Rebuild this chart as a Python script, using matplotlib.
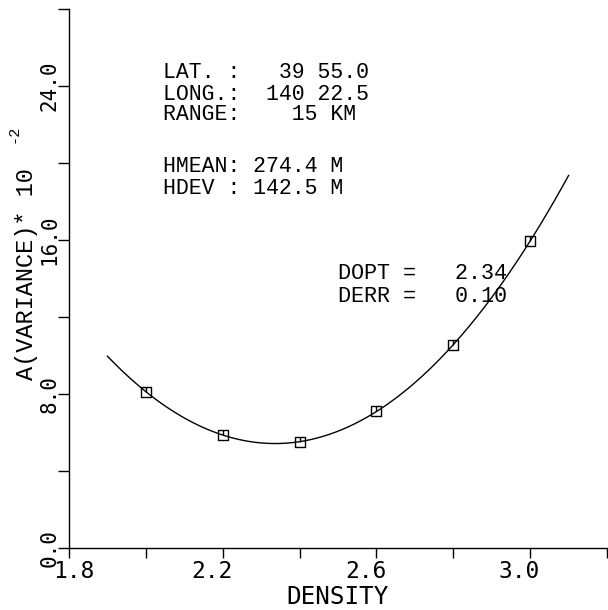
import numpy as np
import matplotlib
matplotlib.use("Agg")
import matplotlib.pyplot as plt
from matplotlib.path import Path
from matplotlib.transforms import ScaledTranslation

# ---- data ----
density = [2.0, 2.2, 2.4, 2.6, 2.8, 3.0]
variance = [8.12, 5.87, 5.52, 7.10, 10.55, 15.95]
curve_start, curve_end = 1.9, 3.1

x_ticks = [1.8, 2.0, 2.2, 2.4, 2.6, 2.8, 3.0, 3.2]
x_ticklabels = ["1.8", "", "2.2", "", "2.6", "", "3.0", ""]
y_ticks = [0, 4, 8, 12, 16, 20, 24, 28]
y_ticklabels = ["0.0", "", "8.0", "", "16.0", "", "24.0", ""]

info_lines = ["LAT. :   39 55.0", "LONG.:  140 22.5", "RANGE:    15 KM",
              "HMEAN: 274.4 M", "HDEV : 142.5 M"]
fit_lines = ["DOPT =   2.34", "DERR =   0.10"]

W, H = 608, 610
fig = plt.figure(figsize=(W / 100, H / 100), dpi=100)
ax = fig.add_axes([69 / W, (H - 548) / H, (607 - 69) / W, (548 - 9) / H])

TICKFONT = "DejaVu Sans Mono"
WIDEFONT = "Liberation Mono"

# fitted curve (least squares quadratic through the measured points)
coef = np.polyfit(density, variance, 2)
xc = np.linspace(curve_start, curve_end, 300)
ax.plot(xc, np.polyval(coef, xc), color="black", lw=1.0, clip_on=False)

# marker: open square with short vertical stroke from centre to top
verts = [(-1, -1), (1, -1), (1, 1), (-1, 1), (-1, -1), (0, 0), (0, 1)]
codes = [Path.MOVETO, Path.LINETO, Path.LINETO, Path.LINETO, Path.CLOSEPOLY,
         Path.MOVETO, Path.LINETO]
sq = Path(verts, codes)
ax.plot(density, variance, linestyle="none", marker=sq, markersize=7.5,
        markerfacecolor="none", markeredgecolor="black", markeredgewidth=1.0)

ax.set_xlim(1.8, 3.2)
ax.set_ylim(0, 28)
for s in ["top", "right"]:
    ax.spines[s].set_visible(False)
for s in ["left", "bottom"]:
    ax.spines[s].set_linewidth(1.0)

ax.set_xticks(x_ticks)
ax.set_xticklabels(x_ticklabels, family=TICKFONT, fontsize=16.5)
ax.set_yticks(y_ticks)
ax.set_yticklabels(y_ticklabels, family=TICKFONT, fontsize=15,
                   rotation=90, va="center", ha="right")
ax.tick_params(axis="x", direction="out", length=7, width=1.0, pad=1.5)
ax.tick_params(axis="y", direction="out", length=8, width=1.0, pad=-1.2)

# shift x tick labels as in reference
for i, tick in enumerate(ax.xaxis.get_major_ticks()):
    dx = 5 if i == 0 else -11
    tick.label1.set_transform(tick.label1.get_transform() +
                              ScaledTranslation(dx / 100, 0, fig.dpi_scale_trans))

# axis titles
fig.text(338 / W, (H - 604) / H, "DENSITY", family=TICKFONT, fontsize=17.5,
         ha="center", va="baseline")
fig.text(33 / W, (H - 380) / H, "A(VARIANCE)* 10", family=WIDEFONT,
         fontsize=17, rotation=90, rotation_mode="anchor",
         ha="left", va="baseline")
fig.text(18 / W, (H - 143) / H, "-2", family=WIDEFONT, fontsize=11,
         rotation=90, rotation_mode="anchor", ha="left", va="baseline")

# annotation block
info_base = [78, 99.5, 120.5, 172, 193.5]
for line, yb in zip(info_lines, info_base):
    fig.text(163 / W, (H - yb) / H, line, family=WIDEFONT, fontsize=15.5,
             ha="left", va="baseline")
fit_base = [279, 302]
for line, yb in zip(fit_lines, fit_base):
    fig.text(338 / W, (H - yb) / H, line, family=WIDEFONT, fontsize=15.7,
             ha="left", va="baseline")

fig.savefig("out.png", dpi=100)
